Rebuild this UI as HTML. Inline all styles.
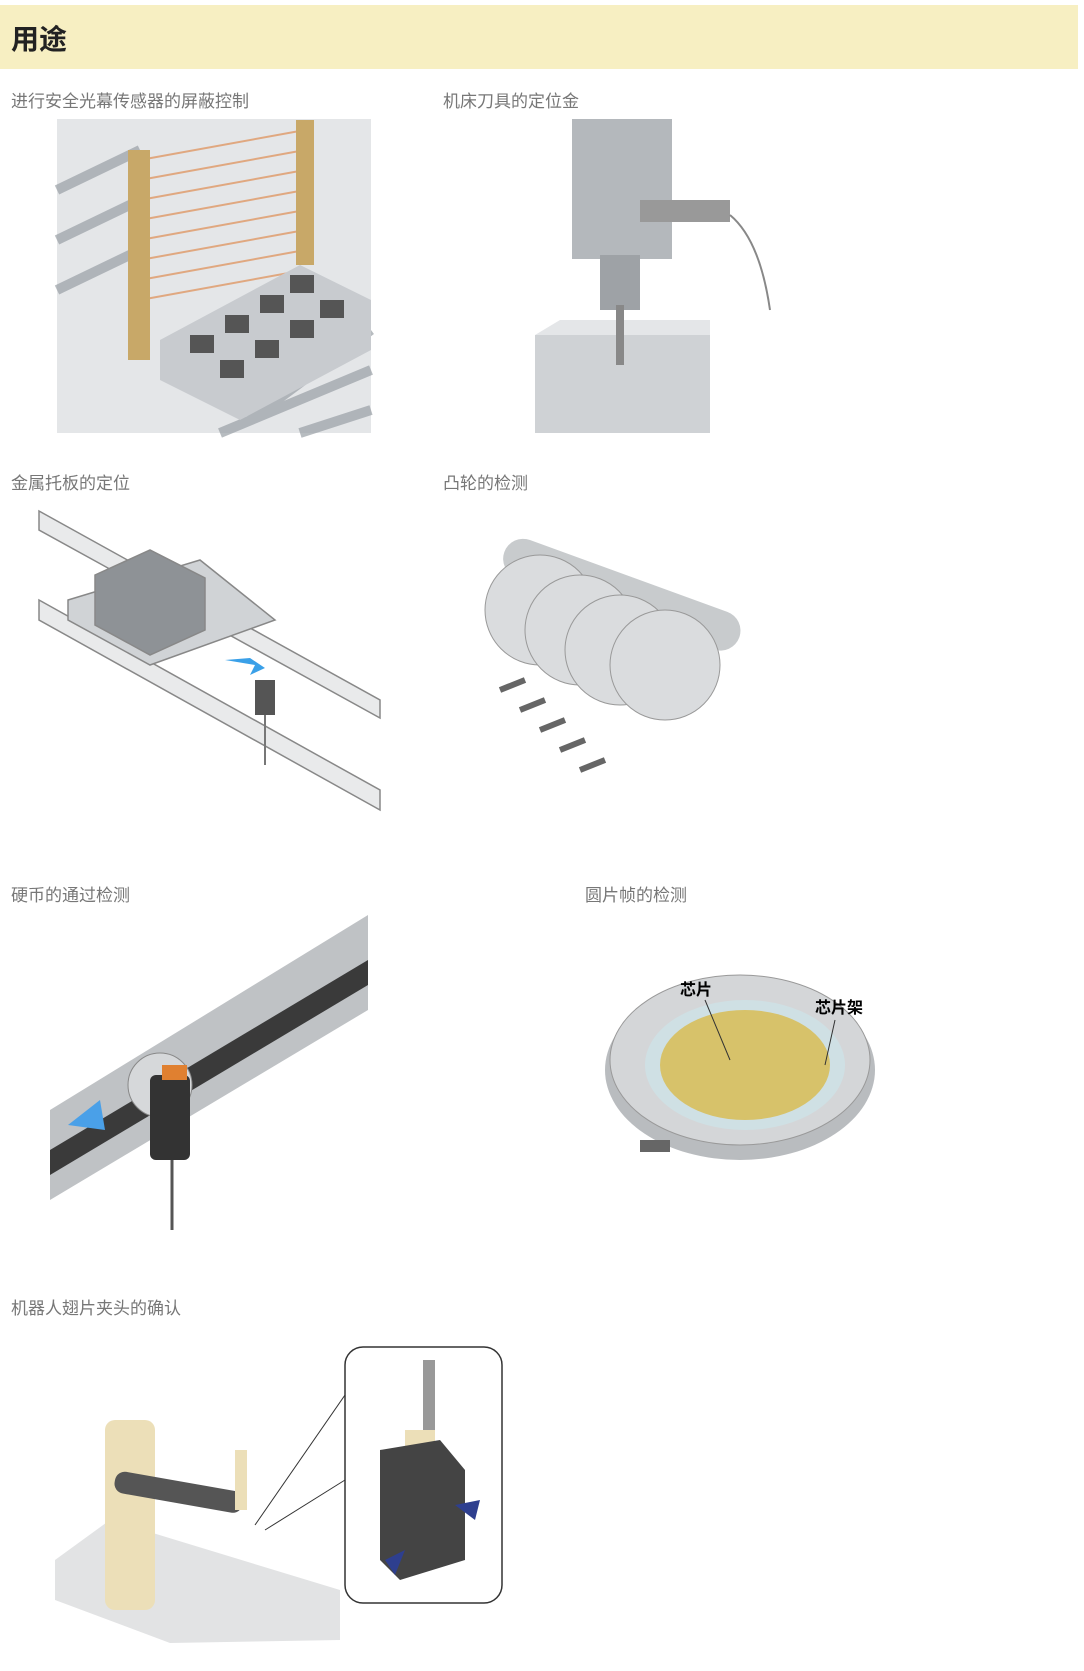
<!DOCTYPE html>
<html><head><meta charset="utf-8"><style>
body{margin:0;width:1084px;height:1671px;background:#fff;position:relative;overflow:hidden;font-family:"Liberation Sans","Noto Sans CJK SC",sans-serif}
.hd{position:absolute;left:0;top:5px;width:1078px;height:64px;background:#f7efc2}
.hd span{position:absolute;left:11px;top:13px;font-size:28px;color:#222;font-weight:bold}
.l{position:absolute;font-size:17px;color:#777}
svg{position:absolute;left:0;top:0}
</style></head><body>
<div class="hd"><span>用途</span></div>
<div class="l" style="left:11px;top:87px">进行安全光幕传感器的屏蔽控制</div>
<div class="l" style="left:443px;top:87px">机床刀具的定位金</div>
<div class="l" style="left:11px;top:469px">金属托板的定位</div>
<div class="l" style="left:443px;top:469px">凸轮的检测</div>
<div class="l" style="left:11px;top:881px">硬币的通过检测</div>
<div class="l" style="left:585px;top:881px">圆片帧的检测</div>
<div class="l" style="left:11px;top:1294px">机器人翅片夹头的确认</div>
<svg width="1084" height="1671">
<!-- img1 light curtain -->
<rect x="57" y="119" width="314" height="314" fill="#e4e6e8"/>
<g stroke="#9aa0a6" stroke-width="10" opacity=".7">
<line x1="57" y1="190" x2="140" y2="150"/><line x1="57" y1="240" x2="140" y2="200"/><line x1="57" y1="290" x2="140" y2="250"/>
<line x1="250" y1="420" x2="371" y2="330"/><line x1="220" y1="433" x2="371" y2="370"/><line x1="300" y1="433" x2="371" y2="410"/></g>
<g stroke="#e0a880" stroke-width="2">
<line x1="140" y1="160" x2="305" y2="130"/><line x1="140" y1="180" x2="305" y2="150"/><line x1="140" y1="200" x2="305" y2="170"/><line x1="140" y1="220" x2="305" y2="190"/><line x1="140" y1="240" x2="305" y2="210"/><line x1="140" y1="260" x2="305" y2="230"/><line x1="140" y1="280" x2="305" y2="250"/><line x1="140" y1="300" x2="305" y2="270"/></g>
<rect x="128" y="150" width="22" height="210" fill="#c8a868"/><rect x="296" y="120" width="18" height="145" fill="#c8a868"/>
<polygon points="160,340 300,265 371,300 371,350 240,420 160,380" fill="#c8cbcf"/>
<g fill="#555"><rect x="190" y="335" width="24" height="18"/><rect x="225" y="315" width="24" height="18"/><rect x="260" y="295" width="24" height="18"/><rect x="290" y="275" width="24" height="18"/><rect x="220" y="360" width="24" height="18"/><rect x="255" y="340" width="24" height="18"/><rect x="290" y="320" width="24" height="18"/><rect x="320" y="300" width="24" height="18"/></g>
<!-- img2 machine -->
<rect x="572" y="119" width="100" height="140" fill="#b4b8bc"/>
<rect x="600" y="255" width="40" height="55" fill="#9ea2a6"/>
<rect x="535" y="335" width="175" height="98" fill="#cfd2d5"/><polygon points="535,335 560,320 710,320 710,335" fill="#e4e6e8"/>
<rect x="616" y="305" width="8" height="60" fill="#888"/>
<rect x="640" y="200" width="90" height="22" fill="#999"/><path d="M730 215 Q760 240 770 310" stroke="#888" stroke-width="2" fill="none"/>
<!-- img3 pallet -->
<g stroke="#888" stroke-width="1.5" fill="#e9eaeb">
<polygon points="39,511 380,700 380,718 39,530"/><polygon points="39,600 380,790 380,810 39,620"/>
<polygon points="68,600 200,560 275,620 150,665 68,620" fill="#d0d3d6"/>
<polygon points="95,575 150,550 205,578 205,630 150,655 95,625" fill="#8e9296"/></g>
<polygon points="225,660 255,665 250,675 265,668 250,658" fill="#3aa0e8"/>
<rect x="255" y="680" width="20" height="35" fill="#555"/><line x1="265" y1="715" x2="265" y2="765" stroke="#777" stroke-width="2"/>
<!-- img4 cams -->
<rect x="480" y="570" width="250" height="40" rx="20" fill="#c8cbcd" transform="rotate(20 600 640)"/>
<g fill="#dadcde" stroke="#999"><circle cx="540" cy="610" r="55"/><circle cx="580" cy="630" r="55"/><circle cx="620" cy="650" r="55"/><circle cx="665" cy="665" r="55"/></g>
<g stroke="#666" stroke-width="6"><line x1="500" y1="690" x2="525" y2="680"/><line x1="520" y1="710" x2="545" y2="700"/><line x1="540" y1="730" x2="565" y2="720"/><line x1="560" y1="750" x2="585" y2="740"/><line x1="580" y1="770" x2="605" y2="760"/></g>
<!-- img5 coin -->
<polygon points="50,1110 368,915 368,1010 50,1200" fill="#bfc2c5"/>
<polygon points="50,1150 368,960 368,985 50,1175" fill="#3a3a3a"/>
<circle cx="160" cy="1085" r="32" fill="#d6d8da" stroke="#888"/>
<polygon points="68,1125 100,1100 105,1130" fill="#4aa0e8"/>
<rect x="150" y="1075" width="40" height="85" rx="6" fill="#333"/><rect x="162" y="1065" width="25" height="15" fill="#e08030"/>
<line x1="172" y1="1160" x2="172" y2="1230" stroke="#555" stroke-width="3"/>
<!-- img6 wafer -->
<ellipse cx="740" cy="1070" rx="135" ry="90" fill="#b9bcbf"/>
<ellipse cx="740" cy="1060" rx="130" ry="85" fill="#d4d6d8" stroke="#999"/>
<ellipse cx="745" cy="1065" rx="100" ry="65" fill="#cfe0e4"/>
<ellipse cx="745" cy="1065" rx="85" ry="55" fill="#d7c26a"/>
<text x="680" y="995" font-size="16" font-weight="bold" font-family="Liberation Sans,Noto Sans CJK SC,sans-serif">芯片</text>
<text x="815" y="1013" font-size="16" font-weight="bold" font-family="Liberation Sans,Noto Sans CJK SC,sans-serif">芯片架</text>
<line x1="705" y1="1000" x2="730" y2="1060" stroke="#333"/><line x1="835" y1="1020" x2="825" y2="1065" stroke="#333"/>
<rect x="640" y="1140" width="30" height="12" fill="#666"/>
<!-- img7 robot -->
<polygon points="55,1560 110,1520 340,1590 340,1640 170,1643 55,1600" fill="#e2e3e4"/>
<rect x="105" y="1420" width="50" height="190" rx="10" fill="#ecdfb8"/>
<rect x="115" y="1470" width="130" height="22" rx="10" fill="#555" transform="rotate(10 115 1480)"/>
<rect x="235" y="1450" width="12" height="60" fill="#ecdfb8"/>
<rect x="345" y="1347" width="157" height="256" rx="18" fill="#fff" stroke="#333" stroke-width="1.5"/>
<line x1="345" y1="1395" x2="255" y2="1525" stroke="#333"/><line x1="345" y1="1480" x2="265" y2="1530" stroke="#333"/>
<rect x="423" y="1360" width="12" height="80" fill="#999"/><rect x="405" y="1430" width="30" height="20" fill="#ecdfb8"/>
<polygon points="380,1450 440,1440 465,1470 465,1560 400,1580 380,1560" fill="#444"/>
<polygon points="455,1505 480,1500 475,1520" fill="#2e3f8f"/><polygon points="385,1560 405,1550 395,1575" fill="#2e3f8f"/>
</svg>
</body></html>
